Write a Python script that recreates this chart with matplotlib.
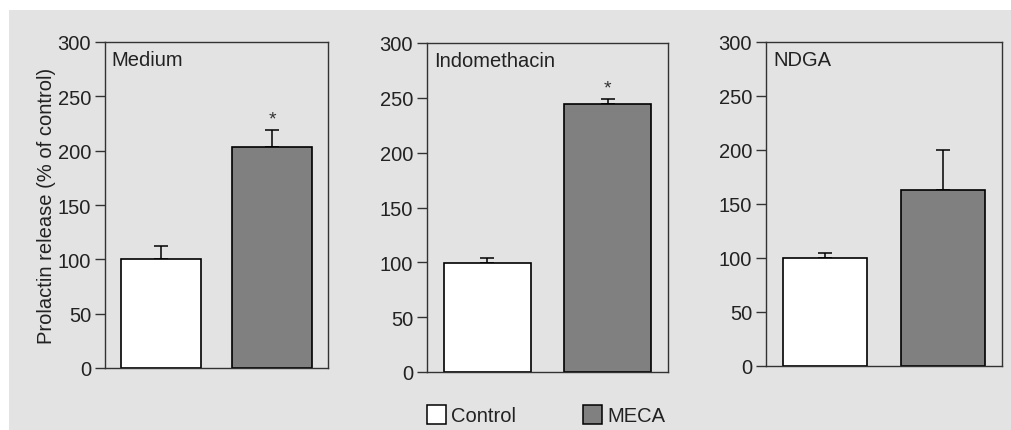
import matplotlib
matplotlib.use('Agg')
import matplotlib.pyplot as plt
from matplotlib.patches import Patch, Rectangle

plt.rcParams['font.family'] = ['Liberation Sans', 'DejaVu Sans']

# data
panels = ['Medium', 'Indomethacin', 'NDGA']
groups = ['Control', 'MECA']
control_vals = [100, 99, 100]
control_err = [12, 5, 5]
meca_vals = [203, 244, 163]
meca_err = [16, 5, 37]
meca_signif = [True, True, False]

BG = '#e3e3e3'
DARK = '#333333'
TXT = '#222222'
MECA_COLOR = '#808080'
FS = 14.5
W, H = 1011, 431

fig = plt.figure(figsize=(W / 100, H / 100), dpi=100, facecolor='white')
fig.add_artist(Rectangle((9 / W, 0), 1, 1 - 11 / H, transform=fig.transFigure,
                         facecolor=BG, edgecolor='none', zorder=0))

# axes boxes in pixels: left, right, top, bottom
boxes = [(105, 328, 43, 369), (427, 668, 44, 373), (766, 1002, 43, 367)]

for i, (name, (l, r, t, b)) in enumerate(zip(panels, boxes)):
    ax = fig.add_axes([l / W, (H - b) / H, (r - l) / W, (b - t) / H])
    ax.set_facecolor(BG)
    vals = [control_vals[i], meca_vals[i]]
    errs = [control_err[i], meca_err[i]]
    ax.bar([0, 1], vals, width=0.72, color=['white', MECA_COLOR],
           edgecolor='black', linewidth=1.2, zorder=2)
    ax.errorbar([0, 1], vals, yerr=[[0, 0], errs], fmt='none', ecolor='black',
                elinewidth=1.1, capsize=5, capthick=1.1, zorder=1)
    if meca_signif[i]:
        ax.text(1, vals[1] + errs[1] + 2, '*', ha='center', va='bottom',
                fontsize=14, color=DARK)
    ax.set_xlim(-0.5, 1.5)
    ax.set_ylim(0, 300)
    ax.set_yticks(range(0, 301, 50))
    ax.set_xticks([])
    ax.tick_params(axis='y', length=7, width=1, color=DARK, labelcolor=TXT,
                   labelsize=FS, pad=3)
    for s in ax.spines.values():
        s.set_color(DARK)
        s.set_linewidth(1)
    ax.text(0.03, 0.975, name, transform=ax.transAxes, ha='left', va='top',
            fontsize=FS, color=TXT)
    if i == 0:
        ax.set_ylabel('Prolactin release (% of control)', fontsize=FS,
                      color=TXT, labelpad=1)

handles = [Patch(facecolor='white', edgecolor='black', linewidth=1.1),
           Patch(facecolor=MECA_COLOR, edgecolor='black', linewidth=1.1)]
fig.legend(handles, groups, loc='center', bbox_to_anchor=(546 / W, 1 - 416 / H),
           ncol=2, frameon=False, fontsize=FS, handlelength=0.95, handleheight=1.05,
           handletextpad=0.25, columnspacing=3.3, labelcolor=TXT)

fig.savefig('out.png', dpi=100, facecolor='white')
